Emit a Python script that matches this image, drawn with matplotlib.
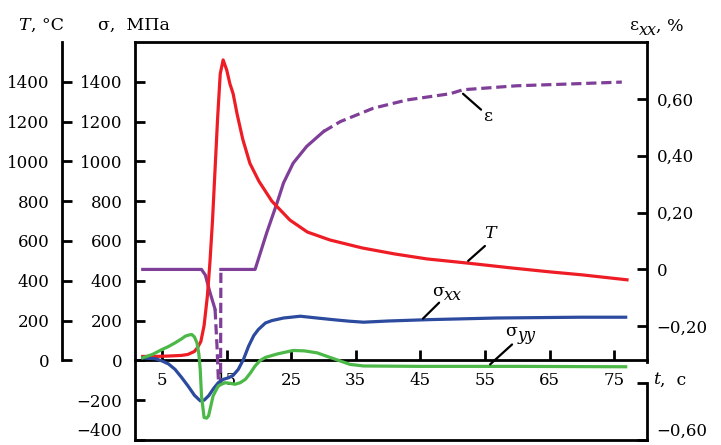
import matplotlib
matplotlib.use('Agg')
import matplotlib.pyplot as plt

plt.rcParams['font.family'] = ['DejaVu Serif']
plt.rcParams['mathtext.fontset'] = 'custom'
plt.rcParams['mathtext.rm'] = 'DejaVu Serif'
plt.rcParams['mathtext.it'] = 'DejaVu Serif:italic'
plt.rcParams['font.size'] = 12

# temperature T, degC
t_T = [2, 4, 6, 8, 9, 10, 10.5, 11, 11.5, 12, 12.4, 12.8, 13.2, 13.6, 14.0, 14.45,
       15.0, 15.5, 16, 16.6, 17.5, 18.6, 20, 22, 24.8, 27.5, 31, 36, 41, 46, 52,
       59, 65, 70, 77]
T = [20, 20, 22, 25, 30, 45, 65, 95, 175, 320, 490, 700, 960, 1220, 1440, 1510,
     1460, 1390, 1340, 1240, 1110, 990, 900, 800, 705, 645, 605, 565, 535, 510, 490,
     465, 445, 430, 405]

# stress sigma_xx, MPa
t_sxx = [2, 4, 5, 6, 7, 8, 9, 10, 10.9, 11.5, 12.2, 13, 13.7, 14.5, 15.3, 16, 16.8,
         17.6, 18.4, 19.2, 19.9, 21, 22, 23.8, 26.4, 29, 32, 34, 36.2, 40, 46.5,
         56.8, 69.7, 76.8]
sxx = [13, 8, -3, -18, -45, -85, -128, -175, -203, -200, -178, -140, -112, -95, -87,
       -75, -45, 5, 72, 125, 155, 188, 200, 213, 222, 213, 203, 197, 192, 198, 205,
       213, 217, 217]

# stress sigma_yy, MPa
t_syy = [2, 3.5, 5, 6, 7, 8, 8.6, 9.2, 9.6, 10, 10.4, 10.7, 10.9, 11.1, 11.5, 11.9,
         12.2, 12.9, 13.7, 14.7, 15.5, 16.3, 17.1, 17.9, 18.7, 19.4, 20.2, 21, 22.8,
         25.3, 27, 29, 31, 32.6, 34.1, 36.2, 45, 60, 76.8]
syy = [13, 30, 55, 70, 88, 108, 122, 128, 130, 118, 88, 30, -45, -178, -287, -290,
       -278, -178, -128, -112, -115, -120, -112, -95, -62, -28, 0, 15, 32, 50, 48, 38,
       15, -3, -20, -28, -30, -30, -32]

# strain eps_xx, % (solid and dashed parts)
t_e1 = [2, 11.1, 11.7, 12.4, 13.2]
e1 = [0, 0, -0.02, -0.08, -0.14]
t_e2 = [13.2, 13.5, 13.75, 14.05, 14.1]
e2 = [-0.14, -0.27, -0.41, -0.39, 0.0]
t_e3 = [14.1, 19.4, 21.2, 22.8, 23.8, 25.3, 27.4, 30.0]
e3 = [0, 0, 0.129, 0.234, 0.304, 0.374, 0.433, 0.485]
t_e4 = [30.0, 32.6, 37.7, 42.9, 49.6, 51.6, 59.9, 67.7, 76.2]
e4 = [0.485, 0.52, 0.567, 0.596, 0.618, 0.632, 0.646, 0.652, 0.659]

x_ticks = [5, 15, 25, 35, 45, 55, 65, 75]
s_ticks = [-400, -200, 0, 200, 400, 600, 800, 1000, 1200, 1400]
s_labels = ['−400', '−200', '0', '200', '400', '600', '800', '1000', '1200', '1400']
T_ticks = [0, 200, 400, 600, 800, 1000, 1200, 1400]
e_ticks = [-0.6, -0.4, -0.2, 0, 0.2, 0.4, 0.6]
e_labels = ['−0,60', '', '−0,20', '0', '0,20', '0,40', '0,60']

red = '#ee1d25'
purple = '#7f3f98'
blue = '#2c4a9e'
green = '#4cb848'
lw = 2.3
slw = 2.0

fig = plt.figure(figsize=(7.21, 4.45), dpi=100)
ax = fig.add_axes([135 / 721, 1 - 440 / 445, 512 / 721, 398 / 445])
ax.set_xlim(0.8, 80.1)
ax.set_ylim(-400, 1600)

ax2 = ax.twinx()   # strain
ax2.set_ylim(-0.6, 0.8)
ax3 = ax.twinx()   # temperature
ax3.set_ylim(-400, 1600)

# sigma axis
for s in ['top', 'left']:
    ax.spines[s].set_linewidth(slw)
ax.spines['right'].set_visible(False)
ax.spines['bottom'].set_position(('data', 0))
ax.spines['bottom'].set_linewidth(slw)
ax.plot([0, 1], [0, 0], transform=ax.transAxes, color='k', lw=slw, clip_on=False,
        solid_capstyle='projecting')
ax.set_yticks(s_ticks)
lab = ax.set_yticklabels(s_labels)
lab[0].set_va('bottom')
ax.set_xticks(x_ticks)
ax.tick_params(axis='y', direction='in', length=7, width=slw, pad=9)
ax.tick_params(axis='x', direction='in', length=7, width=slw, pad=8)

# strain axis on the right, with a gap for the time label
for s in ['top', 'left', 'bottom']:
    ax2.spines[s].set_visible(False)
ax2.spines['right'].set_linewidth(slw)
ax2.spines['right'].set_bounds(-0.325, 0.8)
ax2.plot([1, 1], [-0.6, -0.4], transform=ax2.get_yaxis_transform(), color='k',
         lw=slw, clip_on=False)
ax2.set_yticks(e_ticks)
lab = ax2.set_yticklabels(e_labels)
lab[0].set_va('bottom')
ax2.tick_params(axis='y', direction='in', length=7, width=slw, pad=7)

# temperature axis, far left
for s in ['top', 'right', 'bottom']:
    ax3.spines[s].set_visible(False)
ax3.spines['left'].set_visible(True)
ax3.spines['left'].set_position(('axes', -73 / 512))
ax3.spines['left'].set_bounds(0, 1600)
ax3.spines['left'].set_linewidth(slw)
ax3.yaxis.set_ticks_position('left')
ax3.yaxis.set_label_position('left')
ax3.set_yticks(T_ticks)
ax3.tick_params(axis='y', direction='in', length=7, width=slw, pad=9)

# curves
dash = (0, (3.2, 1.5))
ax2.plot(t_e1, e1, color=purple, lw=lw)
ax2.plot(t_e2, e2, color=purple, lw=lw, linestyle=dash)
ax2.plot(t_e3, e3, color=purple, lw=lw)
ax2.plot(t_e4, e4, color=purple, lw=lw, linestyle=dash)
ax3.plot(t_T, T, color=red, lw=lw)
ax3.plot(t_sxx, sxx, color=blue, lw=lw)
ax3.plot(t_syy, syy, color=green, lw=lw)


def sub_text(x, y, main, sub, coords='data', size=12.5):
    # main symbol with a full-size italic subscript next to it
    ax3.annotate(main, (x, y), xycoords=coords, ha='right', va='center',
                 fontsize=size, annotation_clip=False)
    ax3.annotate(sub, (x, y), xycoords=coords, xytext=(0.5, -3),
                 textcoords='offset points', ha='left', va='center',
                 style='italic', fontsize=size - 1, annotation_clip=False)


# curve labels with leader lines
arrow = dict(arrowstyle='-', color='k', lw=1.6, shrinkA=0, shrinkB=0)
ax3.annotate('', xy=(51.6, 1340), xytext=(54.4, 1260), arrowprops=arrow)
ax3.text(55.4, 1225, 'ε', ha='center', va='center', fontsize=12.5)
ax3.annotate('', xy=(52.4, 500), xytext=(55.0, 575), arrowprops=arrow)
ax3.text(55.8, 640, 'T', ha='center', va='center', style='italic', fontsize=12.5)
ax3.annotate('', xy=(45.4, 210), xytext=(47.9, 290), arrowprops=arrow)
sub_text(48.6, 345, 'σ', 'xx')
ax3.annotate('', xy=(55.8, -20), xytext=(59.2, 80), arrowprops=arrow)
sub_text(60.0, 145, 'σ', 'yy')

# axis titles
fig.text(18 / 721, 1 - 25 / 445, 'T', ha='left', va='center', style='italic',
         fontsize=12.5)
fig.text(31 / 721, 1 - 25 / 445, ', °C', ha='left', va='center', fontsize=12.5)
fig.text(98 / 721, 1 - 25 / 445, 'σ,  МПа', ha='left', va='center', fontsize=12.5)
sub_text(638 / 721, 1 - 26 / 445, 'ε', 'xx', coords='figure fraction')
fig.text(656 / 721, 1 - 26 / 445, ', %', ha='left', va='center', fontsize=12.5)
fig.text(653 / 721, 1 - 380 / 445, 't', ha='left', va='center', style='italic',
         fontsize=12.5)
fig.text(660 / 721, 1 - 380 / 445, ',  с', ha='left', va='center', fontsize=12.5)

fig.savefig('out.png', dpi=100)
